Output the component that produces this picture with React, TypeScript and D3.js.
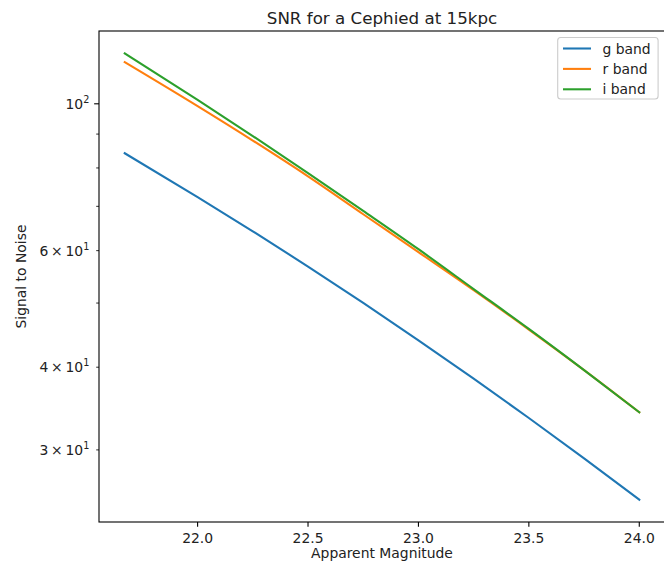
import React, { useEffect, useRef } from "react";
import * as d3 from "d3";

// apparent magnitude samples
const magnitudes = [21.67, 22.0, 22.25, 22.5, 22.75, 23.0, 23.25, 23.5, 23.75, 24.0];

// signal to noise per band
const gBand = [84.2, 72.3, 64.18, 56.78, 50.03, 43.92, 38.45, 33.52, 29.13, 25.23];
const rBand = [115.6, 99.2, 88.0, 77.7, 68.1, 59.7, 52.3, 45.6, 39.6, 34.2];
const iBand = [119.2, 101.4, 89.4, 78.6, 68.9, 60.3, 52.5, 45.7, 39.6, 34.2];

const seriesNames = ["g band", "r band", "i band"];
const xTicks = [22.0, 22.5, 23.0, 23.5, 24.0];
const yMajorTicks = [100];
const yMinorTicks = [30, 40, 50, 60, 70, 80, 90];
const yLabelled = [30, 40, 60];

const colors = ["#1f77b4", "#ff7f0e", "#2ca02c"];
const FONT = "DejaVu Sans, sans-serif";

export default function App() {
  const ref = useRef<SVGSVGElement>(null);

  useEffect(() => {
    const width = 664,
      height = 565,
      left = 99,
      right = 665,
      top = 31,
      bottom = 522;

    const svg = d3.select(ref.current);
    svg.selectAll("*").remove();

    // matplotlib-like 5% margins
    const [xmin, xmax] = d3.extent(magnitudes) as [number, number];
    const xm = (xmax - xmin) * 0.05;
    const x = d3.scaleLinear().domain([xmin - xm, xmax + xm]).range([left, right]);

    const all = [...gBand, ...rBand, ...iBand];
    const lmin = Math.log10(d3.min(all)!),
      lmax = Math.log10(d3.max(all)!);
    const lm = (lmax - lmin) * 0.05;
    const y = d3
      .scaleLog()
      .domain([Math.pow(10, lmin - lm), Math.pow(10, lmax + lm)])
      .range([bottom, top]);

    svg.attr("width", width).attr("height", height);

    const series = [gBand, rBand, iBand];
    const line = d3
      .line<number>()
      .x((d, i) => x(magnitudes[i]))
      .y((d) => y(d))
      .curve(d3.curveMonotoneX);

    const clip = svg.append("clipPath").attr("id", "plot-clip");
    clip.append("rect").attr("x", left).attr("y", top).attr("width", right - left).attr("height", bottom - top);

    svg
      .append("g")
      .attr("clip-path", "url(#plot-clip)")
      .selectAll("path")
      .data(series)
      .enter()
      .append("path")
      .attr("d", (d) => line(d))
      .attr("fill", "none")
      .attr("stroke", (d, i) => colors[i])
      .attr("stroke-width", 2.08)
      .attr("stroke-linejoin", "round")
      .attr("stroke-linecap", "square");

    // spines
    svg
      .append("rect")
      .attr("x", left)
      .attr("y", top)
      .attr("width", right - left)
      .attr("height", bottom - top)
      .attr("fill", "none")
      .attr("stroke", "#000")
      .attr("stroke-width", 1.1);

    // x ticks
    const xt = svg.append("g");
    xTicks.forEach((t) => {
      xt.append("line")
        .attr("x1", x(t))
        .attr("x2", x(t))
        .attr("y1", bottom)
        .attr("y2", bottom + 4.86)
        .attr("stroke", "#000")
        .attr("stroke-width", 1.1);
      xt.append("text")
        .attr("x", x(t))
        .attr("y", bottom + 21)
        .attr("text-anchor", "middle")
        .attr("font-family", FONT)
        .attr("font-size", 13.9)
        .attr("fill", "#222")
        .text(t.toFixed(1));
    });

    // y ticks
    const yt = svg.append("g");
    yMinorTicks.forEach((t) => {
      yt.append("line")
        .attr("x1", left - 2.8)
        .attr("x2", left)
        .attr("y1", y(t))
        .attr("y2", y(t))
        .attr("stroke", "#000")
        .attr("stroke-width", 0.83);
    });
    yMajorTicks.forEach((t) => {
      yt.append("line")
        .attr("x1", left - 4.86)
        .attr("x2", left)
        .attr("y1", y(t))
        .attr("y2", y(t))
        .attr("stroke", "#000")
        .attr("stroke-width", 1.1);
      const txt = yt
        .append("text")
        .attr("x", left - 9.7)
        .attr("y", y(t) + 5)
        .attr("text-anchor", "end")
        .attr("font-family", FONT)
        .attr("font-size", 13.9)
        .attr("fill", "#222");
      const e = Math.round(Math.log10(t));
      txt.append("tspan").text("10");
      txt.append("tspan").attr("dy", -6).attr("font-size", 9.7).text(String(e));
    });
    yLabelled.forEach((t) => {
      const e = Math.floor(Math.log10(t));
      const m = Math.round(t / Math.pow(10, e));
      const txt = yt
        .append("text")
        .attr("x", left - 9.7)
        .attr("y", y(t) + 5)
        .attr("text-anchor", "end")
        .attr("font-family", FONT)
        .attr("font-size", 13.9)
        .attr("fill", "#222");
      txt.append("tspan").text(`${m}\u2009\u00d7\u200910`);
      txt.append("tspan").attr("dy", -6).attr("font-size", 9.7).text(String(e));
    });

    // axis labels and title
    svg
      .append("text")
      .attr("x", (left + right) / 2)
      .attr("y", 558)
      .attr("text-anchor", "middle")
      .attr("font-family", FONT)
      .attr("font-size", 13.9)
      .attr("fill", "#222")
      .text("Apparent Magnitude");

    svg
      .append("text")
      .attr("transform", `translate(25.5, ${(top + bottom) / 2}) rotate(-90)`)
      .attr("text-anchor", "middle")
      .attr("font-family", FONT)
      .attr("font-size", 13.9)
      .attr("fill", "#222")
      .text("Signal to Noise");

    svg
      .append("text")
      .attr("x", (left + right) / 2)
      .attr("y", 24)
      .attr("text-anchor", "middle")
      .attr("font-family", FONT)
      .attr("font-size", 16.7)
      .attr("fill", "#222")
      .text("SNR for a Cephied at 15kpc");

    // legend
    const legend = svg.append("g");
    legend
      .append("rect")
      .attr("x", 557.7)
      .attr("y", 37.5)
      .attr("width", right - 6.9 - 557.7)
      .attr("height", 61.5)
      .attr("rx", 3)
      .attr("fill", "#fff")
      .attr("fill-opacity", 0.8)
      .attr("stroke", "#ccc")
      .attr("stroke-width", 1.1);
    seriesNames.forEach((name, i) => {
      const ly = 48.5 + i * 20.4;
      legend
        .append("line")
        .attr("x1", 563)
        .attr("x2", 591)
        .attr("y1", ly)
        .attr("y2", ly)
        .attr("stroke", colors[i])
        .attr("stroke-width", 2.08);
      legend
        .append("text")
        .attr("x", 602.5)
        .attr("y", ly + 5)
        .attr("font-family", FONT)
        .attr("font-size", 13.9)
        .attr("fill", "#222")
        .text(name);
    });
  }, []);

  return (
    <div style={{ position: "absolute", left: 0, top: 0 }}>
      <svg ref={ref}></svg>
    </div>
  );
}
